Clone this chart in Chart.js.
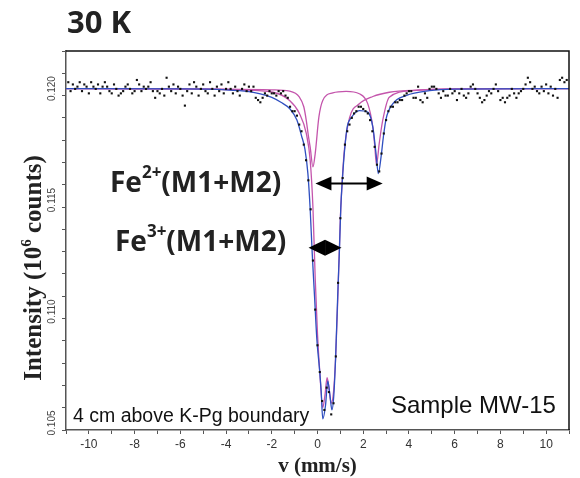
<!DOCTYPE html>
<html>
<head>
<meta charset="utf-8">
<script src="https://cdn.jsdelivr.net/npm/chart.js@4.4.1/dist/chart.umd.min.js"></script>
<style>
html, body { margin: 0; padding: 0; background: #fff; }
</style>
</head>
<body>
<canvas id="spectrum" width="580" height="478"></canvas>
<script>
// measured channels: velocity (mm/s) and counts (10^6)
const velocity = [
  -10.9,-10.8,-10.7,-10.6,-10.5,-10.4,-10.3,-10.2,-10.1,-10.0,
  -9.9,-9.8,-9.7,-9.6,-9.5,-9.4,-9.3,-9.2,-9.1,-9.0,
  -8.9,-8.8,-8.7,-8.6,-8.5,-8.4,-8.3,-8.2,-8.1,-8.0,
  -7.9,-7.8,-7.7,-7.6,-7.5,-7.4,-7.3,-7.2,-7.1,-7.0,
  -6.9,-6.8,-6.7,-6.6,-6.5,-6.4,-6.3,-6.2,-6.1,-6.0,
  -5.9,-5.8,-5.7,-5.6,-5.5,-5.4,-5.3,-5.2,-5.1,-5.0,
  -4.9,-4.8,-4.7,-4.6,-4.5,-4.4,-4.3,-4.2,-4.1,-4.0,
  -3.9,-3.8,-3.7,-3.6,-3.5,-3.4,-3.3,-3.2,-3.1,-3.0,
  -2.9,-2.8,-2.7,-2.6,-2.5,-2.4,-2.3,-2.2,-2.1,-2.0,
  -1.9,-1.8,-1.7,-1.6,-1.5,-1.4,-1.3,-1.2,-1.1,-1.0,
  -0.9,-0.8,-0.7,-0.6,-0.5,-0.4,-0.3,-0.2,-0.1,0.0,
  0.1,0.2,0.3,0.4,0.5,0.6,0.7,0.8,0.9,1.0,
  1.1,1.2,1.3,1.4,1.5,1.6,1.7,1.8,1.9,2.0,
  2.1,2.2,2.3,2.4,2.5,2.6,2.7,2.8,2.9,3.0,
  3.1,3.2,3.3,3.4,3.5,3.6,3.7,3.8,3.9,4.0,
  4.1,4.2,4.3,4.4,4.5,4.6,4.7,4.8,4.9,5.0,
  5.1,5.2,5.3,5.4,5.5,5.6,5.7,5.8,5.9,6.0,
  6.1,6.2,6.3,6.4,6.5,6.6,6.7,6.8,6.9,7.0,
  7.1,7.2,7.3,7.4,7.5,7.6,7.7,7.8,7.9,8.0,
  8.1,8.2,8.3,8.4,8.5,8.6,8.7,8.8,8.9,9.0,
  9.1,9.2,9.3,9.4,9.5,9.6,9.7,9.8,9.9,10.0,
  10.1,10.2,10.3,10.4,10.5,10.6,10.7,10.8,10.9
];
const counts = [
  0.1206,0.1202,0.1205,0.1203,0.1204,0.1206,0.1202,0.1205,0.1204,0.1201,
  0.1206,0.1204,0.1203,0.1205,0.1201,0.1204,0.1206,0.1204,0.1202,0.1201,
  0.1205,0.1203,0.1200,0.1201,0.1202,0.1204,0.1205,0.1203,0.1201,0.1202,
  0.1207,0.1205,0.1202,0.1204,0.1203,0.1204,0.1206,0.1202,0.1199,0.1202,
  0.1201,0.1203,0.1200,0.1208,0.1204,0.1202,0.1205,0.1201,0.1204,0.1203,
  0.1200,0.11955,0.1202,0.1205,0.1201,0.1206,0.1204,0.1200,0.1203,0.1205,
  0.1202,0.1201,0.1206,0.1203,0.1200,0.1204,0.1202,0.1205,0.1201,0.1203,
  0.1206,0.1203,0.1201,0.1204,0.1202,0.1200,0.1203,0.1205,0.1202,0.1204,
  0.1202,0.1204,0.1199,0.1198,0.1197,0.1199,0.1201,0.1200,0.1202,0.1201,
  0.1201,0.1200,0.1202,0.1201,0.1202,0.1200,0.1199,0.1195,0.1193,0.1193,
  0.1191,0.1187,0.1184,0.1178,0.1171,0.1162,0.1149,0.1126,0.1104,0.1088,
  0.1076,0.1063,0.1059,0.1069,0.1067,0.1057,0.1062,0.1083,0.1116,0.1145,
  0.1163,0.1178,0.1184,0.1187,0.1190,0.1192,0.1193,0.1195,0.1195,0.1194,
  0.1193,0.1192,0.1189,0.1184,0.1177,0.1169,0.1166,0.1174,0.1183,0.1189,
  0.1193,0.1195,0.1195,0.1197,0.1197,0.1198,0.1198,0.1200,0.1201,0.1202,
  0.1202,0.1199,0.1199,0.1204,0.1198,0.1197,0.1201,0.1199,0.1203,0.1204,
  0.1204,0.1203,0.1201,0.1199,0.1202,0.1200,0.1200,0.1203,0.1201,0.1202,
  0.1198,0.1201,0.1203,0.1200,0.1199,0.1201,0.1204,0.1205,0.1203,0.1201,
  0.1199,0.1197,0.1198,0.1200,0.1202,0.1201,0.1203,0.1205,0.1202,0.1198,
  0.1199,0.1197,0.1199,0.1200,0.1203,0.1201,0.1199,0.1201,0.1202,0.1203,
  0.1205,0.1208,0.1206,0.1203,0.1204,0.1202,0.1201,0.1204,0.1202,0.1205,
  0.1201,0.1204,0.1200,0.1203,0.1199,0.1207,0.1208,0.1206,0.1207
];

// total fit (blue)
const fitV = [-11,-6,-4,-3,-2.5,-2,-1.6,-1.2,-0.9,-0.7,-0.55,-0.42,-0.32,-0.23,-0.13,-0.03,0.09,0.16,0.23,0.35,0.45,0.55,0.63,0.71,0.79,0.89,0.96,1.02,1.08,1.18,1.3,1.47,1.83,2.2,2.42,2.56,2.66,2.78,2.88,3.0,3.29,3.87,4.9,6,11];
const fitI = [0.12031,0.12030,0.12026,0.12018,0.12008,0.11992,0.1197,0.1194,0.1189,0.1182,0.1176,0.1165,0.1149,0.1129,0.1110,0.1091,0.1077,0.10675,0.1055,0.1061,0.1072,0.1065,0.1059,0.1065,0.1082,0.1112,0.1131,0.1150,0.1161,0.1175,0.1186,0.1190,0.11933,0.11926,0.11859,0.1174,0.1165,0.11725,0.11814,0.11896,0.11963,0.1200,0.12022,0.12029,0.12031];

// Fe2+ doublet (magenta)
const fe2V = [-11,-4,-2,-1.22,-0.79,-0.6,-0.49,-0.4,-0.32,-0.2,-0.1,0.06,0.23,0.67,1.25,1.83,2.2,2.42,2.5,2.58,2.7,2.85,3.14,4.15,6,11];
const fe2I = [0.12031,0.12029,0.12026,0.12020,0.11993,0.1195,0.11888,0.1182,0.11769,0.1168,0.1174,0.11903,0.11978,0.12012,0.12019,0.12008,0.11963,0.11859,0.1178,0.1169,0.11786,0.11888,0.11993,0.12022,0.1203,0.12031];

// Fe3+ doublet (magenta)
const fe3V = [-11,-6,-3.4,-1.95,-1.22,-0.79,-0.49,-0.32,-0.2,-0.1,0.0,0.1,0.23,0.33,0.42,0.5,0.6,0.7,0.8,0.9,1.0,1.1,1.18,1.4,1.83,2.42,3.14,4.45,6,11];
const fe3I = [0.12031,0.1203,0.12025,0.12015,0.11978,0.1192,0.1183,0.1171,0.1150,0.1118,0.1093,0.1076,0.1060,0.1066,0.10735,0.1069,0.1062,0.1067,0.1084,0.1113,0.1145,0.1165,0.1176,0.1190,0.11963,0.11996,0.12015,0.12025,0.1203,0.12031];

const yTickLabels = [0.105, 0.110, 0.115, 0.120];

// splitting arrows, in data units
const fe2Arrow = { from: -0.09, to: 2.85, at: 0.11606 };
const fe3Arrow = { from: -0.39, to: 1.05, at: 0.11317 };

const pts = (xs, ys) => xs.map((v, i) => ({ x: v, y: ys[i] }));

function head(ctx, tx, ty, dir, len, half) {
    ctx.beginPath();
    ctx.moveTo(tx, ty);
    ctx.lineTo(tx - dir * len, ty - half);
    ctx.lineTo(tx - dir * len, ty + half);
    ctx.closePath();
    ctx.fill();
}

function ionLabel(ctx, x0, base, charge) {
    ctx.font = 'bold 28px "Open Sans"';
    ctx.fillText('Fe', x0, base);
    let w = ctx.measureText('Fe').width;
    ctx.font = 'bold 17px "Open Sans"';
    ctx.fillText(charge, x0 + w, base - 14);
    w += ctx.measureText(charge).width;
    ctx.font = 'bold 28px "Open Sans"';
    ctx.fillText('(M1+M2)', x0 + w, base);
}

const decor = {
    id: 'decor',
    afterDraw(chart) {
        const { ctx, chartArea: a, scales: { x, y } } = chart;
        ctx.save();

        // top and right frame
        ctx.strokeStyle = '#111';
        ctx.lineWidth = 1.5;
        ctx.beginPath();
        ctx.moveTo(a.left, a.top);
        ctx.lineTo(a.right, a.top);
        ctx.lineTo(a.right, a.bottom);
        ctx.stroke();

        // rotated y tick labels
        ctx.fillStyle = '#444';
        ctx.font = '10px "Liberation Sans"';
        ctx.textAlign = 'center';
        ctx.textBaseline = 'middle';
        yTickLabels.forEach(v => {
            ctx.save();
            ctx.translate(52, y.getPixelForValue(v) - 7);
            ctx.rotate(-Math.PI / 2);
            ctx.fillText(v.toFixed(3), 0, 0);
            ctx.restore();
        });

        // axis titles
        ctx.fillStyle = '#222';
        ctx.textBaseline = 'alphabetic';
        ctx.font = 'bold 21px "Liberation Serif"';
        ctx.fillText('v (mm/s)', (a.left + a.right) / 2, 472);

        ctx.save();
        ctx.translate(41, 268);
        ctx.rotate(-Math.PI / 2);
        ctx.textAlign = 'left';
        const p1 = 'Intensity (10', p2 = '6', p3 = ' counts)';
        ctx.font = 'bold 25px "Liberation Serif"';
        const w1 = ctx.measureText(p1).width, w3 = ctx.measureText(p3).width;
        ctx.font = 'bold 15px "Liberation Serif"';
        const w2 = ctx.measureText(p2).width;
        let sx = -(w1 + w2 + w3) / 2;
        ctx.font = 'bold 25px "Liberation Serif"';
        ctx.fillText(p1, sx, 0);
        ctx.font = 'bold 15px "Liberation Serif"';
        ctx.fillText(p2, sx + w1, -10);
        ctx.font = 'bold 25px "Liberation Serif"';
        ctx.fillText(p3, sx + w1 + w2, 0);
        ctx.restore();

        // temperature
        ctx.textAlign = 'left';
        ctx.fillStyle = '#222';
        ctx.font = 'bold 31px "Open Sans"';
        ctx.fillText('30 K', 67, 33);

        // site labels
        ionLabel(ctx, 110, 192, '2+');
        ionLabel(ctx, 115, 251, '3+');

        // sample notes
        ctx.fillStyle = '#111';
        ctx.font = '19.5px "Liberation Sans"';
        ctx.fillText('4 cm above K-Pg boundary', 73, 422);
        ctx.font = '24px "Liberation Sans"';
        ctx.fillText('Sample MW-15', 391, 413);

        // quadrupole splitting arrows
        ctx.fillStyle = '#000';
        ctx.strokeStyle = '#000';
        let xa = x.getPixelForValue(fe2Arrow.from), xb = x.getPixelForValue(fe2Arrow.to), ya = y.getPixelForValue(fe2Arrow.at);
        ctx.lineWidth = 2;
        ctx.beginPath();
        ctx.moveTo(xa + 10, ya);
        ctx.lineTo(xb - 10, ya);
        ctx.stroke();
        head(ctx, xa, ya, -1, 16, 7);
        head(ctx, xb, ya, 1, 16, 7);

        xa = x.getPixelForValue(fe3Arrow.from); xb = x.getPixelForValue(fe3Arrow.to); ya = y.getPixelForValue(fe3Arrow.at);
        const half = (xb - xa) / 2;
        head(ctx, xa, ya, -1, half, 8);
        head(ctx, xb, ya, 1, half, 8);

        ctx.restore();
    }
};

document.addEventListener('DOMContentLoaded', function() {
const ctx = document.getElementById('spectrum').getContext('2d');
new Chart(ctx, {
    type: 'scatter',
    data: {
        datasets: [{
            label: 'data',
            data: pts(velocity, counts),
            pointStyle: 'rect',
            pointRadius: 1.5,
            borderWidth: 0,
            backgroundColor: '#111',
            showLine: false
        }, {
            label: 'fit',
            data: pts(fitV, fitI),
            showLine: true,
            pointRadius: 0,
            borderColor: '#2f4fc0',
            borderWidth: 1.3,
            cubicInterpolationMode: 'monotone'
        }, {
            label: 'Fe3+',
            data: pts(fe3V, fe3I),
            showLine: true,
            pointRadius: 0,
            borderColor: '#c455ac',
            borderWidth: 1.3,
            cubicInterpolationMode: 'monotone'
        }, {
            label: 'Fe2+',
            data: pts(fe2V, fe2I),
            showLine: true,
            pointRadius: 0,
            borderColor: '#c455ac',
            borderWidth: 1.3,
            cubicInterpolationMode: 'monotone'
        }]
    },
    options: {
        responsive: false,
        animation: false,
        layout: { padding: { top: 51, right: 11, left: 0, bottom: 0 } },
        plugins: { legend: { display: false }, tooltip: { enabled: false } },
        scales: {
            x: {
                type: 'linear',
                min: -11,
                max: 11,
                afterFit(s) { s.height = 48; },
                border: { color: '#555', width: 1.5 },
                grid: { drawOnChartArea: false, drawTicks: true, tickLength: 4, color: '#555' },
                ticks: {
                    stepSize: 1,
                    autoSkip: false,
                    maxRotation: 0,
                    padding: 3,
                    color: '#333',
                    font: { family: 'Liberation Sans', size: 12 },
                    callback: (v) => (Math.round(v) % 2 === 0 && Math.abs(v) < 11) ? String(v) : ''
                }
            },
            y: {
                type: 'linear',
                min: 0.105,
                max: 0.122,
                afterFit(s) { s.width = 66; },
                border: { color: '#555', width: 1.5 },
                grid: { drawOnChartArea: false, drawTicks: true, tickLength: 4, color: '#555' },
                ticks: { stepSize: 0.001, autoSkip: false, display: false }
            }
        }
    },
    plugins: [decor]
});
});
</script>
</body>
</html>
